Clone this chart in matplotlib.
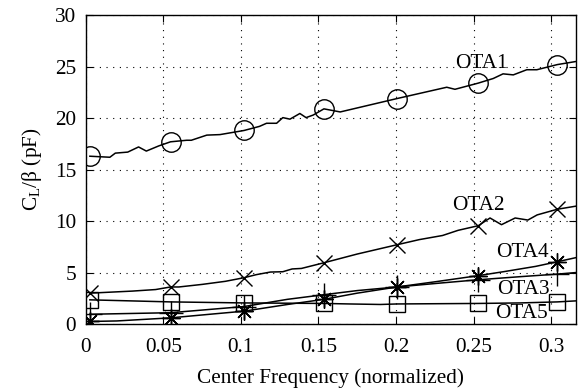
import numpy as np
import matplotlib
matplotlib.use('Agg')
from matplotlib import pyplot as plt

plt.rcParams['font.family'] = ['Liberation Serif', 'DejaVu Serif']
plt.rcParams['mathtext.fontset'] = 'custom'
plt.rcParams['mathtext.rm'] = 'Liberation Serif'
plt.rcParams['mathtext.it'] = 'Liberation Serif:italic'

# marker positions (normalized center frequency)
x_mark = [0.0026, 0.0546, 0.102, 0.1535, 0.2006, 0.253, 0.304]

# OTA1 curve
x1 = [0.0026, 0.0155, 0.019, 0.027, 0.034, 0.039, 0.047, 0.0546, 0.065, 0.068, 0.078,
      0.0865, 0.102, 0.112, 0.1165, 0.123, 0.127, 0.1316, 0.138, 0.142, 0.1466, 0.1535,
      0.164, 0.2006, 0.2327, 0.238, 0.253, 0.2627, 0.269, 0.2756, 0.2843, 0.2908,
      0.304, 0.316]
y1 = [16.3, 16.2, 16.6, 16.7, 17.2, 16.8, 17.3, 17.7, 17.85, 17.85, 18.35,
      18.4, 18.8, 19.2, 19.5, 19.5, 20.05, 19.9, 20.45, 20.05, 20.3, 20.9,
      20.6, 21.9, 23.0, 22.8, 23.4, 23.85, 24.3, 24.2, 24.7, 24.7,
      25.2, 25.5]
m1 = [16.3, 17.7, 18.8, 20.9, 21.9, 23.4, 25.2]

# OTA2 curve
x2 = [0.0026, 0.03, 0.045, 0.0546, 0.06, 0.075, 0.09, 0.102, 0.11, 0.119, 0.127,
      0.133, 0.139, 0.1535, 0.175, 0.2006, 0.215, 0.23, 0.24, 0.253, 0.2606, 0.268,
      0.2768, 0.285, 0.291, 0.304, 0.316]
y2 = [3.0, 3.2, 3.35, 3.6, 3.6, 3.85, 4.15, 4.5, 4.8, 5.05, 5.08,
      5.35, 5.4, 5.95, 6.8, 7.7, 8.2, 8.6, 9.1, 9.55, 10.3, 9.65,
      10.3, 10.1, 10.6, 11.15, 11.45]
m2 = [3.05, 3.6, 4.5, 5.95, 7.7, 9.55, 11.15]

# OTA3 curve
x3 = [0.0026, 0.0546, 0.102, 0.13, 0.1535, 0.175, 0.2006, 0.23, 0.253, 0.28, 0.304, 0.316]
y3 = [0.95, 1.1, 1.7, 2.4, 2.85, 3.25, 3.6, 4.0, 4.3, 4.6, 4.85, 5.0]
m3 = [0.95, 1.1, 1.7, 2.85, 3.6, 4.3, 4.85]

# OTA4 curve
x4 = [0.0026, 0.02, 0.0546, 0.08, 0.102, 0.13, 0.1535, 0.175, 0.2006, 0.225, 0.253,
      0.27, 0.29, 0.304, 0.316]
y4 = [0.25, 0.3, 0.6, 0.95, 1.25, 1.9, 2.4, 3.0, 3.6, 4.1, 4.7, 5.1, 5.6, 6.05, 6.45]
m4 = [0.25, 0.6, 1.25, 2.4, 3.6, 4.7, 6.05]

# OTA5 curve
x5 = [0.0026, 0.0546, 0.102, 0.1535, 0.17, 0.19, 0.2006, 0.253, 0.28, 0.304, 0.316]
y5 = [2.35, 2.15, 2.05, 2.0, 1.95, 1.9, 1.95, 2.0, 2.05, 2.15, 2.25]
m5 = [2.35, 2.15, 2.05, 2.0, 1.95, 2.0, 2.15]

labels = ['OTA1', 'OTA2', 'OTA3', 'OTA4', 'OTA5']
label_x = [0.255, 0.253, 0.282, 0.2815, 0.281]
label_y = [25.3, 11.5, 3.4, 6.9, 1.0]

fig = plt.figure(figsize=(5.8, 3.89), dpi=100)
fig.set_facecolor('white')
ax = fig.add_axes([0.148, 0.167, 0.845, 0.794])

lw = 1.1
ax.plot(x1, y1, 'k-', lw=lw)
ax.plot(x_mark, m1, 'ko', mfc='none', ms=14, mew=1.0, ls='none')
ax.plot(x2, y2, 'k-', lw=lw)
ax.plot(x_mark, m2, 'kx', ms=11, mew=1.0, ls='none')
ax.plot(x3, y3, 'k-', lw=lw)
ax.plot(x_mark, m3, 'k+', ms=17, mew=1.0, ls='none')
ax.plot(x4, y4, 'k-', lw=lw)
ax.plot(x_mark, m4, 'k', marker=(8, 2, 0), ms=13, mew=1.0, ls='none')
ax.plot(x5, y5, 'k-', lw=lw)
ax.plot(x_mark, m5, 'ks', mfc='none', ms=12, mew=1.0, ls='none')

for t, tx, ty in zip(labels, label_x, label_y):
    ax.text(tx, ty, t, fontsize=15.3, ha='center', va='center')

ax.set_xlim(0, 0.316)
ax.set_ylim(0, 30)
ax.set_xticks([0, 0.05, 0.1, 0.15, 0.2, 0.25, 0.3])
ax.set_xticklabels(['0', '0.05', '0.1', '0.15', '0.2', '0.25', '0.3'])
ax.set_yticks([0, 5, 10, 15, 20, 25, 30])
ax.tick_params(direction='in', top=True, right=True, length=5, labelsize=15.3)
ax.tick_params(axis='x', pad=10)
ax.tick_params(axis='y', pad=7)
ax.grid(True, color='k', linestyle=(0, (1, 5)), linewidth=0.8)
for s in ax.spines.values():
    s.set_linewidth(1.0)

ax.set_xlabel('Center Frequency (normalized)', fontsize=15.3, labelpad=8)
ax.set_ylabel(r'C$_{\mathrm{L}}$/β (pF)', fontsize=15.3, labelpad=8)

fig.savefig('out.png', dpi=100)
